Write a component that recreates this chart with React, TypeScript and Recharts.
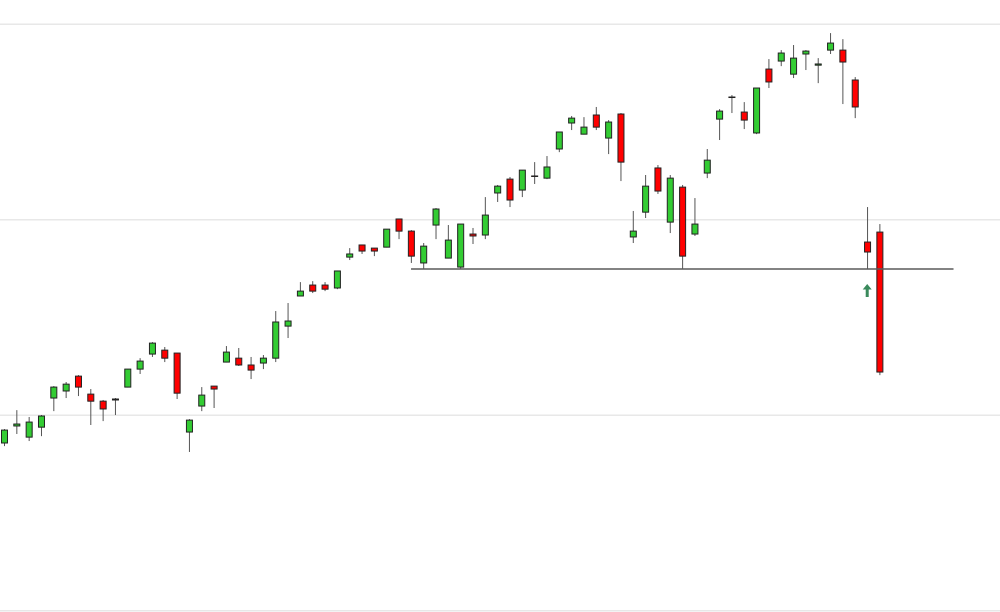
import { ComposedChart, Bar, XAxis, YAxis, CartesianGrid, ReferenceLine, ReferenceDot } from 'recharts'

// daily OHLC, oldest first (no axis labels on the original, levels are estimated)
const opens = [
  3785.8, 3794.5, 3788.8, 3793.9, 3808.8, 3812.4, 3820.0, 3810.8, 3807.2, 3808.3,
  3814.4, 3823.6, 3831.3, 3833.3, 3831.8, 3791.4, 3804.7, 3814.9, 3827.2, 3829.2,
  3825.7, 3826.7, 3829.2, 3845.6, 3861.0, 3866.6, 3866.6, 3865.1, 3880.9, 3887.1,
  3885.5, 3886.0, 3900.4, 3894.2, 3877.9, 3897.3, 3880.4, 3875.8, 3892.7, 3892.2,
  3913.7, 3920.8, 3915.2, 3922.4, 3921.3, 3936.2, 3949.5, 3943.8, 3953.6, 3941.8,
  3954.1, 3891.2, 3903.9, 3926.5, 3898.8, 3916.7, 3892.7, 3923.9, 3951.5, 3962.8,
  3955.1, 3944.4, 3977.1, 3981.2, 3974.5, 3984.8, 3979.1, 3986.8, 3986.8, 3971.5,
  3888.6, 3893.7,
]
const highs = [
  3792.9, 3802.6, 3799.1, 3800.1, 3814.9, 3817.0, 3820.5, 3813.4, 3807.8, 3808.8,
  3823.6, 3829.2, 3837.4, 3834.9, 3831.8, 3798.0, 3814.4, 3814.9, 3835.4, 3834.4,
  3829.8, 3830.8, 3853.3, 3857.4, 3868.1, 3868.6, 3868.1, 3873.8, 3885.5, 3887.1,
  3885.5, 3895.2, 3900.4, 3894.7, 3888.1, 3906.0, 3897.3, 3897.8, 3895.8, 3911.6,
  3917.8, 3921.9, 3925.4, 3929.5, 3932.6, 3944.9, 3953.1, 3952.5, 3957.7, 3951.0,
  3954.6, 3904.5, 3922.9, 3928.0, 3922.9, 3917.8, 3911.1, 3936.2, 3956.6, 3963.8,
  3960.2, 3967.4, 3982.2, 3986.8, 3989.4, 3986.8, 3982.7, 3995.5, 3992.4, 3973.0,
  3906.5, 3897.8,
]
const lows = [
  3784.2, 3790.4, 3786.8, 3789.3, 3802.1, 3808.8, 3809.8, 3795.0, 3797.0, 3800.1,
  3814.4, 3821.1, 3829.8, 3827.2, 3808.3, 3781.2, 3802.1, 3803.7, 3827.2, 3825.2,
  3818.5, 3823.6, 3827.2, 3839.5, 3861.0, 3862.5, 3863.5, 3864.5, 3879.4, 3882.5,
  3881.4, 3886.0, 3890.1, 3877.9, 3874.8, 3890.1, 3880.4, 3874.8, 3887.6, 3890.1,
  3909.1, 3906.5, 3911.6, 3918.3, 3920.8, 3934.6, 3945.9, 3943.8, 3945.9, 3933.6,
  3919.8, 3888.1, 3900.9, 3913.2, 3893.2, 3874.8, 3891.7, 3921.3, 3940.8, 3954.6,
  3946.4, 3943.8, 3967.4, 3978.6, 3972.5, 3976.6, 3969.9, 3984.8, 3959.2, 3952.0,
  3874.8, 3820.5,
]
const closes = [
  3792.4, 3795.5, 3796.5, 3799.6, 3814.4, 3815.9, 3814.4, 3807.2, 3803.2, 3807.8,
  3823.6, 3827.7, 3836.9, 3829.2, 3811.3, 3797.5, 3810.3, 3813.4, 3832.3, 3825.7,
  3823.1, 3829.2, 3847.7, 3848.2, 3863.5, 3863.5, 3864.5, 3873.8, 3882.5, 3884.0,
  3884.0, 3895.2, 3894.2, 3881.4, 3886.5, 3905.5, 3889.6, 3897.8, 3891.7, 3902.4,
  3917.2, 3910.1, 3925.4, 3922.2, 3927.0, 3944.9, 3952.0, 3947.4, 3947.4, 3950.0,
  3929.5, 3894.2, 3917.2, 3914.7, 3921.3, 3881.4, 3897.8, 3930.5, 3955.6, 3962.6,
  3951.0, 3967.4, 3970.5, 3985.3, 3982.7, 3986.3, 3979.7, 3990.4, 3980.7, 3957.7,
  3883.5, 3822.1,
]

const blankSlots = 10 // empty room on the right of the last candle
const gridTicks = [3700, 3800, 3900, 4000]
const supportLevel = 3874.8
const supportFrom = 33
const supportTo = 77
const signalSlot = 70
const signalLevel = 3863.8

const rows = [
  ...opens.map((open, i) => ({ slot: i, open, high: highs[i], low: lows[i], close: closes[i] })),
  ...Array.from({ length: blankSlots }, (_, k) => ({ slot: opens.length + k, open: null, high: null, low: null, close: null })),
]

function Candle(props: any) {
  const { x, y, width, height, payload } = props
  if (!payload || payload.high == null) return null
  const { open, close, high, low } = payload
  const top = Math.min(y, y + height)
  const h = Math.abs(height)
  const span = high - low || 1
  const toY = (v: number) => top + ((high - v) / span) * h
  const cx = x + width / 2
  const bodyTop = toY(Math.max(open, close))
  const bodyBottom = toY(Math.min(open, close))
  const up = close >= open
  return (
    <g>
      <line x1={cx} x2={cx} y1={top} y2={top + h} stroke="#555" strokeWidth={1} />
      <rect
        x={x + 0.5}
        y={bodyTop}
        width={width - 1}
        height={Math.max(bodyBottom - bodyTop, 0.5)}
        fill={up ? '#33cc33' : '#ff0000'}
        stroke="#222"
        strokeWidth={1}
      />
    </g>
  )
}

function UpArrow({ cx, cy }: any) {
  const d = `M${cx},${cy - 6.5} L${cx + 4.5},${cy - 1} L${cx + 1.5},${cy - 1} L${cx + 1.5},${cy + 6.5} L${cx - 1.5},${cy + 6.5} L${cx - 1.5},${cy - 1} L${cx - 4.5},${cy - 1} Z`
  return <path d={d} fill="#3a8a5c" />
}

export default function App() {
  return (
    <div style={{ position: 'absolute', left: 0, top: 0, width: 1000, height: 612, overflow: 'hidden', background: '#fff' }}>
      <div style={{ position: 'absolute', left: -2, top: 0 }}>
        <ComposedChart width={1011} height={612} data={rows} margin={{ top: 24.3, right: 0, bottom: 1.3, left: 0 }}>
          <CartesianGrid vertical={false} stroke="#e8e8e8" strokeWidth={1.5} />
          <XAxis dataKey="slot" type="category" hide />
          <YAxis type="number" domain={[3700, 4000]} ticks={gridTicks} hide />
          <ReferenceLine
            segment={[{ x: supportFrom, y: supportLevel }, { x: supportTo, y: supportLevel }]}
            stroke="#5a5a5a"
            strokeWidth={1.5}
            ifOverflow="visible"
          />
          <Bar
            dataKey={(d: any) => (d.high == null ? null : [d.low, d.high])}
            barSize={7}
            shape={<Candle />}
            isAnimationActive={false}
          />
          <ReferenceDot x={signalSlot} y={signalLevel} shape={<UpArrow />} ifOverflow="visible" />
        </ComposedChart>
      </div>
    </div>
  )
}
